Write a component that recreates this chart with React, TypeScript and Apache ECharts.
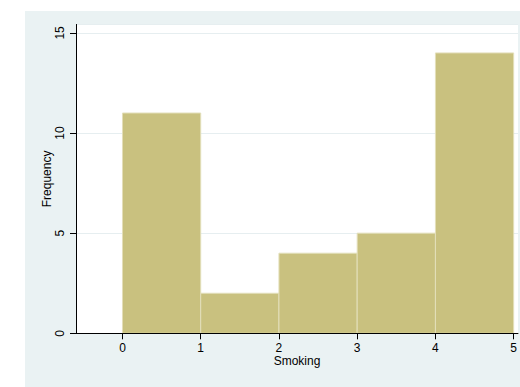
import { useEffect, useRef } from "react";
import * as echarts from "echarts";

// Histogram bins for the Smoking variable
const binStarts = [0, 1, 2, 3, 4];
const binEnds = [1, 2, 3, 4, 5];
const frequencies = [11, 2, 4, 5, 14];

// Tick positions
const xTicks = [0, 1, 2, 3, 4, 5];
const yTicks = [0, 5, 10, 15];

const FONT = "'Liberation Sans', Arial, Helvetica, sans-serif";

// Graph region sits inside a white page margin
const OUTER = { left: 25, top: 11, width: 495, height: 376 };
// Plot region inside the graph region (pixels)
const GRID = { left: 51, right: 0, top: 13.5, bottom: 53.7 };
const X_MIN = -0.594;
const X_MAX = 5.055;
const Y_MAX = 15.42;

export default function App() {
  const ref = useRef<HTMLDivElement>(null);

  useEffect(() => {
    if (!ref.current) return;
    document.body.style.margin = "0";
    document.body.style.overflow = "hidden";
    const chart = echarts.init(ref.current, null, { renderer: "svg" });
    const data = binStarts.map((s, i) => [s, binEnds[i], frequencies[i]]);

    chart.setOption({
      animation: false,
      backgroundColor: "#EAF2F3",
      textStyle: { fontFamily: FONT },
      grid: { ...GRID, show: true, backgroundColor: "#ffffff", borderWidth: 0 },
      xAxis: {
        type: "value",
        min: X_MIN,
        max: X_MAX,
        z: 5,
        axisLine: { show: true, onZero: false, lineStyle: { color: "#000", width: 1 } },
        axisTick: { show: true, customValues: xTicks, length: 6, lineStyle: { color: "#000" } },
        axisLabel: { customValues: xTicks, margin: 9, color: "#000", fontSize: 12, fontFamily: FONT },
        splitLine: { show: false },
        name: "Smoking",
        nameLocation: "middle",
        nameGap: 22,
        nameMoveOverlap: false,
        nameTextStyle: { color: "#000", fontSize: 12, fontFamily: FONT, verticalAlign: "top" },
      },
      yAxis: [
        {
          // frequency axis: ticks, labels and title
          type: "value",
          position: "left",
          min: 0,
          max: Y_MAX,
          interval: 5,
          z: 5,
          axisLine: { show: true, onZero: false, lineStyle: { color: "#000", width: 1 } },
          axisTick: { show: true, customValues: yTicks, length: 6, lineStyle: { color: "#000" } },
          axisLabel: {
            customValues: yTicks,
            rotate: 90,
            margin: 10,
            color: "#000",
            fontSize: 12,
            fontFamily: FONT,
          },
          splitLine: { show: false },
          name: "Frequency",
          nameLocation: "middle",
          nameRotate: 90,
          nameGap: 23,
          nameMoveOverlap: false,
          nameTextStyle: { color: "#000", fontSize: 12, fontFamily: FONT },
        },
        {
          // same scale, drawn beneath the bars for the horizontal grid lines
          type: "value",
          position: "left",
          min: 0,
          max: Y_MAX,
          interval: 5,
          z: 0,
          axisLine: { show: false },
          axisTick: { show: false },
          axisLabel: { show: false },
          splitLine: { show: true, lineStyle: { color: "#E6EEF0", width: 1 } },
        },
      ],
      series: [
        {
          type: "custom",
          z: 2,
          data,
          yAxisIndex: 0,
          encode: { x: [0, 1], y: 2 },
          renderItem: (_params: any, api: any) => {
            const p0 = api.coord([api.value(0), 0]);
            const p1 = api.coord([api.value(1), api.value(2)]);
            return {
              type: "rect",
              shape: {
                x: p0[0],
                y: p1[1],
                width: p1[0] - p0[0],
                height: p0[1] - p1[1],
              },
              style: { fill: "#C9C17F", stroke: "#E3DFBA", lineWidth: 1 },
            };
          },
        },
        {
          // left edge of the plot region (vertical axis line)
          type: "custom",
          z: 6,
          silent: true,
          clip: false,
          yAxisIndex: 0,
          data: [[X_MIN, 0, Y_MAX]],
          renderItem: (_params: any, api: any) => {
            const a = api.coord([api.value(0), api.value(1)]);
            const b = api.coord([api.value(0), api.value(2)]);
            return {
              type: "line",
              shape: { x1: a[0] + 0.5, y1: a[1], x2: b[0] + 0.5, y2: b[1] },
              style: { stroke: "#000", lineWidth: 1 },
            };
          },
        },
      ],
    });

    return () => chart.dispose();
  }, []);

  return (
    <div style={{ position: "fixed", left: 0, top: 0, width: 520, height: 387, background: "#ffffff" }}>
      <div
        ref={ref}
        style={{
          position: "absolute",
          left: OUTER.left,
          top: OUTER.top,
          width: OUTER.width,
          height: OUTER.height,
        }}
      />
    </div>
  );
}
